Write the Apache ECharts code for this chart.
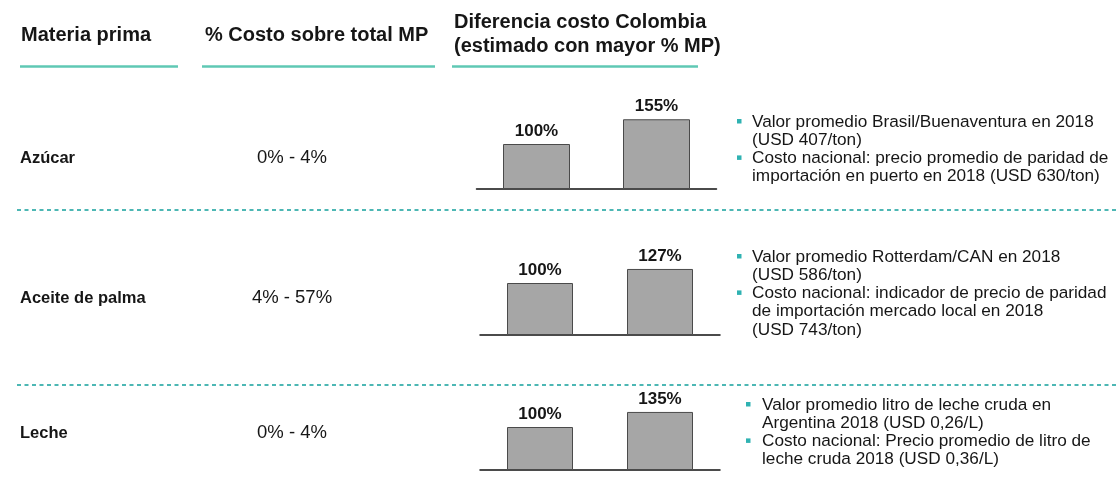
<!DOCTYPE html>
<html>
<head>
<meta charset="utf-8">
<script src="https://cdn.jsdelivr.net/npm/echarts@6/dist/echarts.min.js"></script>
<style>
html,body{margin:0;padding:0;background:#fff;}
#chart{width:1116px;height:484px;}
</style>
</head>
<body>
<div id="chart"></div>
<script>
// ---- data ----
const headers = ['Materia prima', '% Costo sobre total MP', 'Diferencia costo Colombia', '(estimado con mayor % MP)'];
const materias = ['Azúcar', 'Aceite de palma', 'Leche'];
const rangos = ['0% - 4%', '4% - 57%', '0% - 4%'];
const barCats = ['Internacional', 'Nacional'];
const azucarVals = [100, 155];
const palmaVals = [100, 127];
const lecheVals = [100, 135];
const azucarNotes = [
  ['Valor promedio Brasil/Buenaventura en 2018', '(USD 407/ton)'],
  ['Costo nacional: precio promedio de paridad de', 'importación en puerto en 2018 (USD 630/ton)']
];
const palmaNotes = [
  ['Valor promedio Rotterdam/CAN en 2018', '(USD 586/ton)'],
  ['Costo nacional: indicador de precio de paridad', 'de importación mercado local en 2018', '(USD 743/ton)']
];
const lecheNotes = [
  ['Valor promedio litro de leche cruda en', 'Argentina 2018 (USD 0,26/L)'],
  ['Costo nacional: Precio promedio de litro de', 'leche cruda 2018 (USD 0,36/L)']
];

// ---- layout ----
const FONT = '"Liberation Sans", Arial, Helvetica, sans-serif';
const TEAL_LINE = '#5fc8b4';
const TEAL_DASH = '#4db7b4';
const BULLET = '#2fb2b2';
const TXT = '#161616';

const rows = [
  { vals: azucarVals, notes: azucarNotes, labelY: 158, grid: { left: 476.5, width: 240, top: 99, height: 90 }, bw: 67, notesY: 122, bulletX: 737, textX: 752 },
  { vals: palmaVals, notes: palmaNotes, labelY: 298, grid: { left: 480, width: 240, top: 231, height: 104 }, bw: 66, notesY: 257, bulletX: 737, textX: 752 },
  { vals: lecheVals, notes: lecheNotes, labelY: 433, grid: { left: 480, width: 240, top: 384, height: 86 }, bw: 66, notesY: 405, bulletX: 746, textX: 762 }
];

function txt(x, y, s, font, align) {
  return {
    type: 'text', x: x, y: y, silent: true,
    style: { text: s, font: font, fill: TXT, align: align || 'left', verticalAlign: 'middle',
             textAlign: align || 'left', textVerticalAlign: 'middle' }
  };
}

const graphics = [];
// headers
graphics.push(txt(21, 35, headers[0], 'bold 20px ' + FONT));
graphics.push(txt(205, 35, headers[1], 'bold 20px ' + FONT));
graphics.push(txt(454, 22, headers[2], 'bold 20px ' + FONT));
graphics.push(txt(454, 46, headers[3], 'bold 20px ' + FONT));
[[20, 178], [202, 435], [452, 698]].forEach(function (p) {
  graphics.push({ type: 'line', silent: true, shape: { x1: p[0], y1: 66.5, x2: p[1], y2: 66.5 },
    style: { stroke: TEAL_LINE, lineWidth: 2.5 } });
});
// separators
[210, 385].forEach(function (y) {
  graphics.push({ type: 'line', silent: true, shape: { x1: 17, y1: y, x2: 1116, y2: y },
    style: { stroke: TEAL_DASH, lineWidth: 2, lineDash: [4, 3.5] } });
});
// rows
const LH = 18.2;
rows.forEach(function (r, i) {
  graphics.push(txt(20, r.labelY, materias[i], 'bold 16.5px ' + FONT));
  graphics.push(txt(292, r.labelY, rangos[i], '18.5px ' + FONT, 'center'));
  let line = 0;
  r.notes.forEach(function (bullet) {
    bullet.forEach(function (s, j) {
      const y = r.notesY + line * LH;
      if (j === 0) {
        graphics.push({ type: 'rect', silent: true, shape: { x: r.bulletX, y: y - 3, width: 4.5, height: 4.5 },
          style: { fill: BULLET } });
      }
      graphics.push(txt(r.textX, y, s, '17.2px ' + FONT));
      line++;
    });
  });
});

const grids = [], xAxes = [], yAxes = [], series = [];
rows.forEach(function (r, i) {
  grids.push(Object.assign({ containLabel: false }, r.grid));
  xAxes.push({ type: 'category', gridIndex: i, data: barCats,
    axisLabel: { show: false }, axisTick: { show: false },
    axisLine: { show: true, lineStyle: { color: '#111', width: 1.5 } } });
  yAxes.push({ type: 'value', gridIndex: i, min: 0, max: 200, show: false, splitLine: { show: false } });
  series.push({ type: 'bar', xAxisIndex: i, yAxisIndex: i, data: r.vals, barWidth: r.bw,
    itemStyle: { color: '#a6a6a6', borderColor: '#4a4a4a', borderWidth: 1 },
    label: { show: true, position: 'top', distance: 4, formatter: '{c}%',
      fontFamily: FONT, fontWeight: 'bold', fontSize: 17, color: TXT },
    silent: true, animation: false });
});

const chart = echarts.init(document.getElementById('chart'), null, { renderer: 'canvas' });
chart.setOption({
  backgroundColor: '#ffffff',
  animation: false,
  grid: grids,
  xAxis: xAxes,
  yAxis: yAxes,
  series: series,
  graphic: graphics
});
</script>
</body>
</html>
